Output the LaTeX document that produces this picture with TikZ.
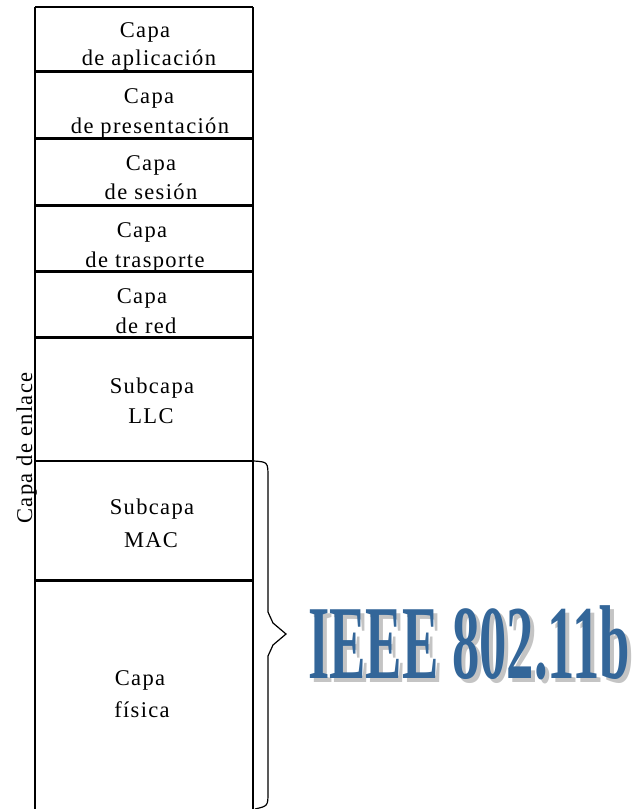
\documentclass[tikz,border=0pt]{standalone}
\usepackage{fontspec}
\usepackage{graphicx}
\setmainfont[LetterSpace=6]{Liberation Serif}
\newfontfamily\ieeefont{Liberation Serif}
\definecolor{ieeeblue}{RGB}{51,102,153}
\definecolor{ieeeshade}{RGB}{196,196,196}
\begin{document}
\begin{tikzpicture}[x=1pt,y=-1pt,
  lbl/.style={anchor=base, inner sep=0pt, font=\fontsize{22.5}{26}\selectfont},
  divider/.style={line width=3pt},
  thinline/.style={line width=1.2pt},
  bigtext/.style={anchor=base west, inner sep=0pt}]
\useasboundingbox[fill=white] (0,0) rectangle (636,809);
% frame coordinates
\coordinate (tl) at (35,7);
\coordinate (tr) at (253,7);
\coordinate (bl) at (35,809);
\coordinate (br) at (253,809);
\foreach \n/\yy in {a/71,b/138,c/205,d/271,e/337,f/461,g/580}{
  \coordinate (L\n) at (35,\yy);
  \coordinate (R\n) at (253,\yy);
}
% frame
\draw[thinline] (tl) -- (bl);
\draw[thinline] (tr) -- (br);
\draw[line width=2pt] (tl) -- (tr);
\foreach \n in {a,b,c,d,e,g}{ \draw[divider] (L\n) -- (R\n); }
\draw[thinline] (Lf) -- (Rf);
% labels
\node[lbl] (t1a) at (145,37) {Capa};
\node[lbl] (t1b) at (149,65) {de aplicación};
\node[lbl] (t2a) at (149,103) {Capa};
\node[lbl] (t2b) at (150,133) {de presentación};
\node[lbl] (t3a) at (151,170) {Capa};
\node[lbl] (t3b) at (151,199) {de sesión};
\node[lbl] (t4a) at (142,237) {Capa};
\node[lbl] (t4b) at (145,267) {de trasporte};
\node[lbl] (t5a) at (142,303) {Capa};
\node[lbl] (t5b) at (146,333) {de red};
\node[lbl] (t6a) at (152,393) {Subcapa};
\node[lbl] (t6b) at (151,423) {LLC};
\node[lbl] (t7a) at (152,514) {Subcapa};
\node[lbl] (t7b) at (151,547) {MAC};
\node[lbl] (t8a) at (140,685) {Capa};
\node[lbl] (t8b) at (142,717) {física};
\node[lbl, rotate=90] (enlace) at (32,448) {Capa de enlace};
% brace
\coordinate (bracetop) at (254,461);
\coordinate (bracetip) at (286,634);
\coordinate (bracebot) at (255,809);
\draw[line width=1.2pt] (bracetop) .. controls (268,462) .. (268,478)
  -- (268,612) -- (273,623) -- (bracetip) -- (273,645) -- (268,656)
  -- (268,792) .. controls (268,806) .. (bracebot);
% IEEE text
\node[bigtext, text=ieeeshade] (ieeeshadow) at (312,682)
  {\scalebox{0.52}[1]{\ieeefont\bfseries\fontsize{105}{105}\selectfont IEEE 802.11b}};
\node[bigtext, text=ieeeblue] (ieee) at (308,678)
  {\scalebox{0.52}[1]{\ieeefont\bfseries\fontsize{105}{105}\selectfont IEEE 802.11b}};
\end{tikzpicture}
\end{document}
